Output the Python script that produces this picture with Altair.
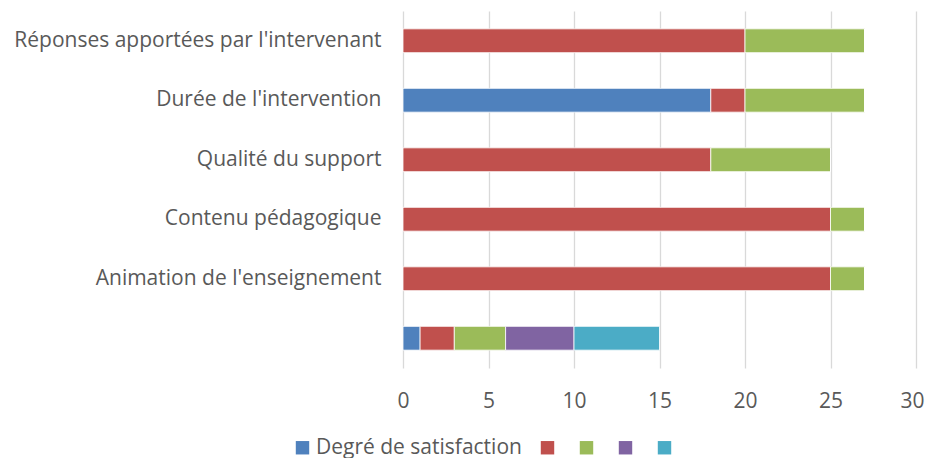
import altair as alt
import pandas as pd

categories = [
    "Réponses apportées par l'intervenant",
    "Durée de l'intervention",
    "Qualité du support",
    "Contenu pédagogique",
    "Animation de l'enseignement",
    "",
]
series_names = ["Degré de satisfaction", "Série 2", "Série 3", "Série 4", "Série 5"]
series_colors = ["#4F81BD", "#C0504D", "#9BBB59", "#8064A2", "#4BACC6"]

s1 = [0, 18, 0, 0, 0, 1]
s2 = [20, 2, 18, 25, 25, 2]
s3 = [7, 7, 7, 2, 2, 3]
s4 = [0, 0, 0, 0, 0, 4]
s5 = [0, 0, 0, 0, 0, 5]
x_ticks = [0, 5, 10, 15, 20, 25, 30]

rows = []
for si, (name, vals) in enumerate(zip(series_names, [s1, s2, s3, s4, s5])):
    for c, v in zip(categories, vals):
        rows.append({"cat": c, "series": name, "order": si, "value": v})
df = pd.DataFrame(rows)

FONT = "Open Sans"
TXT = "#595959"
FS = 21

chart = alt.Chart(df).mark_bar(stroke="white", strokeWidth=0.8).encode(
    y=alt.Y("cat:N", sort=categories, title=None,
            scale=alt.Scale(paddingInner=0.6, paddingOuter=0.3),
            axis=alt.Axis(domain=False, ticks=False, grid=False, labelPadding=22,
                          labelFontSize=FS, labelColor=TXT, labelFont=FONT, labelLimit=500)),
    x=alt.X("value:Q", stack="zero", title=None,
            scale=alt.Scale(domain=[0, 30], nice=False),
            axis=alt.Axis(values=x_ticks, domain=False, ticks=False, grid=True,
                          gridColor="#D9D9D9", gridWidth=1.3, labelPadding=22,
                          labelFlush=False,
                          labelOffset={"condition": {"test": "datum.value == 30", "value": -4}, "value": 0},
                          labelFontSize=FS, labelColor=TXT, labelFont=FONT)),
    color=alt.Color("series:N", sort=series_names,
                    scale=alt.Scale(domain=series_names, range=series_colors),
                    legend=alt.Legend(title=None, orient="none", direction="horizontal",
                                      legendX=-111, legendY=426, columns=5,
                                      symbolType="square", symbolSize=180,
                                      symbolStrokeWidth=0, labelOffset=3, columnPadding=15,
                                      labelLimit=400,
                                      labelFontSize=FS, labelColor=TXT, labelFont=FONT,
                                      labelExpr="datum.value == 'Degré de satisfaction' ? datum.label : ''")),
    order=alt.Order("order:Q"),
).properties(
    width=513, height=357,
    autosize=alt.AutoSizeParams(type="none"),
    padding={"left": 395, "top": 3, "right": 9, "bottom": 90},
).configure_view(stroke=None)

chart.save("out.html", embed_options={"renderer": "svg", "actions": False})
